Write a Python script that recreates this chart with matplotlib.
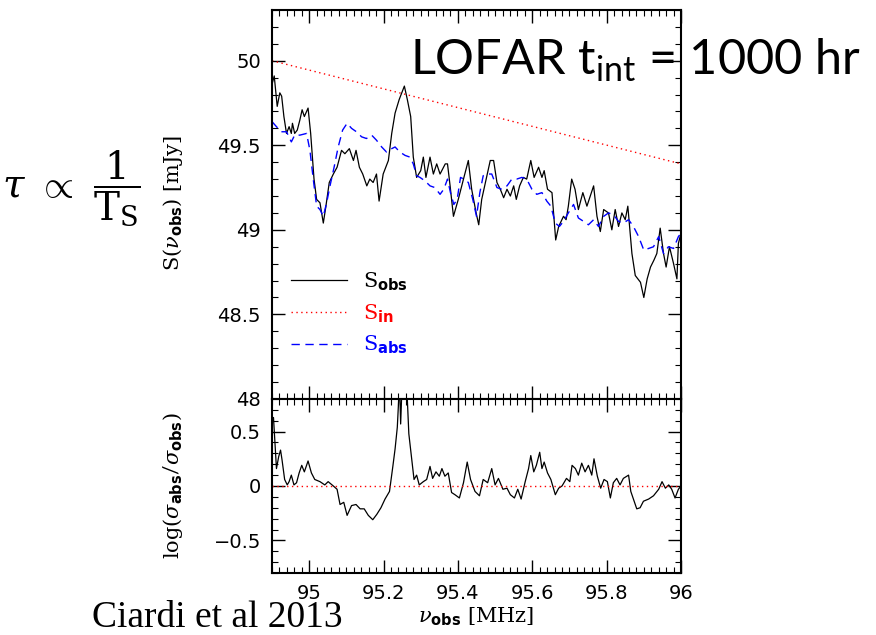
import numpy as np
import matplotlib
matplotlib.use("Agg")
import matplotlib.pyplot as plt
from matplotlib.ticker import MultipleLocator

plt.rcParams['mathtext.fontset'] = 'custom'
plt.rcParams['mathtext.rm'] = 'Lato'
plt.rcParams['mathtext.it'] = 'DejaVu Serif:italic'
plt.rcParams['mathtext.bf'] = 'DejaVu Sans:bold'
plt.rcParams['mathtext.sf'] = 'DejaVu Serif'

# observed spectrum S_obs [mJy]
f_obs = [94.900, 94.906, 94.914, 94.921, 94.926, 94.932, 94.939, 94.946, 94.952, 94.955,
         94.961, 94.968, 94.975, 94.981, 94.987, 94.997, 95.004, 95.013, 95.020, 95.029,
         95.038, 95.045, 95.054, 95.065, 95.075, 95.087, 95.096, 95.108, 95.119, 95.126,
         95.135, 95.144, 95.155, 95.163, 95.172, 95.181, 95.188, 95.199, 95.213, 95.222,
         95.231, 95.242, 95.256, 95.264, 95.273, 95.280, 95.289, 95.300, 95.307, 95.314,
         95.325, 95.334, 95.343, 95.352, 95.366, 95.372, 95.379, 95.388, 95.401, 95.415,
         95.428, 95.437, 95.449, 95.456, 95.464, 95.476, 95.487, 95.496, 95.505, 95.514,
         95.523, 95.532, 95.541, 95.550, 95.557, 95.566, 95.576, 95.585, 95.596, 95.605,
         95.617, 95.626, 95.632, 95.641, 95.653, 95.663, 95.671, 95.684, 95.691, 95.697,
         95.706, 95.715, 95.724, 95.736, 95.747, 95.756, 95.765, 95.774, 95.783, 95.792,
         95.805, 95.814, 95.823, 95.832, 95.841, 95.850, 95.857, 95.868, 95.877, 95.891,
         95.900, 95.909, 95.918, 95.927, 95.935, 95.944, 95.953, 95.960, 95.969, 95.980,
         95.989, 95.993, 96.000]
s_obs = [49.86, 49.91, 49.73, 49.81, 49.79, 49.67, 49.57, 49.61, 49.57, 49.63,
         49.57, 49.59, 49.65, 49.71, 49.67, 49.72, 49.57, 49.30, 49.18, 49.16,
         49.04, 49.14, 49.28, 49.33, 49.37, 49.47, 49.45, 49.48, 49.41, 49.47,
         49.37, 49.33, 49.26, 49.30, 49.28, 49.33, 49.17, 49.33, 49.41, 49.57,
         49.69, 49.77, 49.85, 49.77, 49.67, 49.43, 49.31, 49.35, 49.43, 49.31,
         49.43, 49.33, 49.39, 49.33, 49.39, 49.39, 49.26, 49.08, 49.18, 49.30,
         49.41, 49.24, 49.10, 49.03, 49.18, 49.30, 49.41, 49.41, 49.28, 49.24,
         49.19, 49.24, 49.20, 49.26, 49.18, 49.26, 49.31, 49.30, 49.41, 49.31,
         49.37, 49.31, 49.35, 49.24, 49.22, 48.94, 49.02, 49.08, 49.06, 49.14,
         49.30, 49.24, 49.12, 49.22, 49.14, 49.20, 49.26, 49.08, 48.99, 49.12,
         49.10, 49.00, 49.12, 49.02, 49.10, 49.06, 49.14, 48.86, 48.73, 48.69,
         48.60, 48.71, 48.78, 48.82, 48.86, 49.01, 48.86, 48.78, 48.90, 48.80,
         48.71, 48.92, 48.98]

# spectrum with absorption S_abs [mJy]
f_abs = [94.900, 94.912, 94.925, 94.939, 94.952, 94.961, 94.975, 94.993, 95.002, 95.011,
         95.020, 95.029, 95.038, 95.047, 95.056, 95.067, 95.078, 95.090, 95.102, 95.114,
         95.127, 95.141, 95.154, 95.168, 95.181, 95.195, 95.208, 95.222, 95.231, 95.244,
         95.258, 95.271, 95.280, 95.289, 95.298, 95.311, 95.325, 95.338, 95.352, 95.362,
         95.372, 95.380, 95.389, 95.398, 95.407, 95.416, 95.428, 95.440, 95.450, 95.459,
         95.468, 95.477, 95.491, 95.505, 95.518, 95.532, 95.545, 95.558, 95.572, 95.585,
         95.599, 95.612, 95.626, 95.639, 95.650, 95.662, 95.673, 95.684, 95.697, 95.711,
         95.724, 95.738, 95.751, 95.765, 95.778, 95.792, 95.805, 95.818, 95.832, 95.845,
         95.859, 95.872, 95.886, 95.900, 95.913, 95.926, 95.940, 95.953, 95.966, 95.980,
         95.993, 96.000]
s_abs = [49.64, 49.61, 49.58, 49.58, 49.52, 49.56, 49.56, 49.57, 49.47, 49.30,
         49.14, 49.12, 49.08, 49.16, 49.26, 49.37, 49.49, 49.59, 49.63, 49.60,
         49.58, 49.55, 49.54, 49.56, 49.53, 49.49, 49.46, 49.48, 49.49, 49.46,
         49.44, 49.43, 49.39, 49.32, 49.31, 49.29, 49.26, 49.25, 49.21, 49.24,
         49.30, 49.22, 49.15, 49.18, 49.31, 49.30, 49.28, 49.18, 49.08, 49.22,
         49.32, 49.33, 49.33, 49.25, 49.24, 49.26, 49.30, 49.30, 49.31, 49.30,
         49.24, 49.21, 49.22, 49.17, 49.14, 49.04, 49.02, 49.05, 49.10, 49.15,
         49.07, 49.05, 49.03, 49.06, 49.02, 49.08, 49.10, 49.09, 49.05, 49.04,
         49.06, 49.02, 48.96, 48.88, 48.89, 48.90, 48.96, 48.86, 48.90, 48.89,
         48.96, 48.98]

# intrinsic spectrum S_in [mJy]
f_in = [94.9, 96.0]
s_in = [50.0, 49.39]

# log(sigma_abs / sigma_obs)
f_log = [94.900, 94.904, 94.912, 94.918, 94.923, 94.927, 94.934, 94.941, 94.946, 94.952,
         94.959, 94.966, 94.973, 94.980, 94.987, 94.997, 95.006, 95.015, 95.029, 95.042,
         95.051, 95.065, 95.075, 95.083, 95.093, 95.102, 95.114, 95.126, 95.137, 95.148,
         95.159, 95.171, 95.182, 95.193, 95.204, 95.216, 95.225, 95.231, 95.237, 95.243,
         95.246, 95.250, 95.262, 95.268, 95.275, 95.282, 95.289, 95.296, 95.307, 95.316,
         95.325, 95.332, 95.341, 95.350, 95.357, 95.365, 95.374, 95.383, 95.392, 95.404,
         95.415, 95.425, 95.434, 95.446, 95.458, 95.468, 95.480, 95.491, 95.500, 95.509,
         95.521, 95.532, 95.541, 95.552, 95.561, 95.570, 95.581, 95.590, 95.596, 95.604,
         95.611, 95.620, 95.626, 95.632, 95.641, 95.650, 95.662, 95.671, 95.680, 95.692,
         95.701, 95.707, 95.716, 95.724, 95.733, 95.742, 95.751, 95.760, 95.766, 95.775,
         95.784, 95.793, 95.802, 95.810, 95.818, 95.827, 95.836, 95.845, 95.859, 95.865,
         95.872, 95.881, 95.890, 95.899, 95.913, 95.926, 95.940, 95.949, 95.958, 95.967,
         95.975, 95.984, 95.993, 96.000]
log_ratio = [0.57, 0.63, 0.16, 0.27, 0.33, 0.24, 0.06, 0.01, 0.04, 0.10,
             0.01, 0.03, 0.12, 0.19, 0.13, 0.23, 0.12, 0.06, 0.04, 0.01,
             0.04, 0.00, -0.03, -0.17, -0.15, -0.27, -0.18, -0.17, -0.21, -0.21,
             -0.27, -0.31, -0.26, -0.20, -0.12, -0.05, 0.18, 0.34, 0.54, 0.95,
             0.57, 0.95, 0.95, 0.48, 0.27, 0.06, 0.10, 0.01, 0.04, 0.06,
             0.18, 0.07, 0.13, 0.09, 0.16, 0.09, 0.12, -0.06, -0.08, -0.11,
             0.03, 0.22, 0.06, -0.05, -0.09, 0.06, 0.03, 0.16, 0.01, 0.07,
             -0.03, -0.02, -0.08, -0.11, -0.03, -0.12, 0.04, 0.16, 0.28, 0.13,
             0.19, 0.31, 0.16, 0.22, 0.12, 0.06, -0.08, -0.02, 0.00, 0.07,
             0.04, 0.19, 0.16, 0.10, 0.21, 0.13, 0.19, 0.10, 0.25, 0.09,
             -0.02, 0.06, 0.04, -0.11, 0.03, 0.07, 0.01, 0.07, 0.10, -0.05,
             -0.12, -0.21, -0.20, -0.14, -0.12, -0.09, -0.03, 0.04, -0.02, 0.01,
             -0.03, -0.11, -0.03, 0.00]

fig = plt.figure(figsize=(8.76, 6.35), dpi=100)
ax1 = fig.add_axes([0.3105, 0.3717, 0.4669, 0.6126])
ax2 = fig.add_axes([0.3105, 0.0976, 0.4669, 0.2741], sharex=ax1)

ax1.plot(f_obs, s_obs, color='black', lw=0.9, label=r'S$_{\mathbf{obs}}$')
ax1.plot(f_in, s_in, color='red', lw=1.0, linestyle=(0, (1, 2.5)), label=r'S$_{\mathbf{in}}$')
ax1.plot(f_abs, s_abs, color='blue', lw=1.0, linestyle=(0, (6, 4)), label=r'S$_{\mathbf{abs}}$')
ax1.set_ylim(48, 50.3)
ax1.set_xlim(94.9, 96.0)

ax2.plot(f_log, log_ratio, color='black', lw=0.9)
ax2.axhline(0, color='red', lw=1.0, linestyle=(0, (1, 2.5)))
ax2.set_ylim(-0.8, 0.8)

for ax in (ax1, ax2):
    ax.tick_params(which='both', direction='in', top=True, right=True, labelsize=14, pad=8)
    ax.tick_params(which='major', length=9.5, width=1)
    ax.tick_params(which='minor', length=4.5, width=0.8)
    ax.xaxis.set_major_locator(MultipleLocator(0.2))
    ax.xaxis.set_minor_locator(MultipleLocator(0.02))
    for sp in ax.spines.values():
        sp.set_linewidth(1.5)
    for lab in ax.get_xticklabels() + ax.get_yticklabels():
        lab.set_family('DejaVu Sans')

ax1.yaxis.set_major_locator(MultipleLocator(0.5))
ax1.yaxis.set_minor_locator(MultipleLocator(0.1))
ax1.set_yticks([48, 48.5, 49, 49.5, 50])
ax1.set_yticklabels(['48', '48.5', '49', '49.5', '50'])
ax1.tick_params(labelbottom=False)
ax2.yaxis.set_major_locator(MultipleLocator(0.5))
ax2.yaxis.set_minor_locator(MultipleLocator(0.1))
ax2.set_yticks([-0.5, 0, 0.5])
ax2.set_yticklabels(['\u22120.5', '0', '0.5'])
ax2.set_xticks([95, 95.2, 95.4, 95.6, 95.8, 96])
ax2.set_xticklabels(['95', '95.2', '95.4', '95.6', '95.8', '96'])

ax1.set_ylabel(r'S($\nu_{\mathbf{obs}}$) [mJy]', family='DejaVu Serif', fontsize=15)
ax2.set_ylabel(r'log($\sigma_{\mathbf{abs}}/\sigma_{\mathbf{obs}}$)', family='DejaVu Serif', fontsize=15)
ax2.set_xlabel(r'$\nu_{\mathbf{obs}}$ [MHz]', family='DejaVu Serif', fontsize=15, labelpad=2)
ax1.yaxis.set_label_coords(-0.213, 0.504)
ax2.yaxis.set_label_coords(-0.213, 0.5)

leg = ax1.legend(loc='upper left', bbox_to_anchor=(0.046, 0.33), frameon=False,
                 handlelength=2.7, handletextpad=0.75, labelspacing=0.45,
                 borderpad=0, borderaxespad=0, labelcolor='linecolor',
                 prop={'family': 'DejaVu Serif', 'size': 15})

fig.text(0.468, 0.882, r'LOFAR t$_{\mathrm{int}}$ = 1000 hr', family='Lato', fontsize=35,
         ha='left', va='baseline')
fig.text(0.082, 0.704, r'$\tau\ \propto\ \dfrac{\mathsf{1}}{\mathsf{T_S}}$', fontsize=28,
         ha='center', va='center')
fig.text(0.105, 0.0, 'Ciardi et al 2013', family='Liberation Serif', fontsize=27,
         ha='left', va='bottom')

fig.savefig('out.png', dpi=100)
